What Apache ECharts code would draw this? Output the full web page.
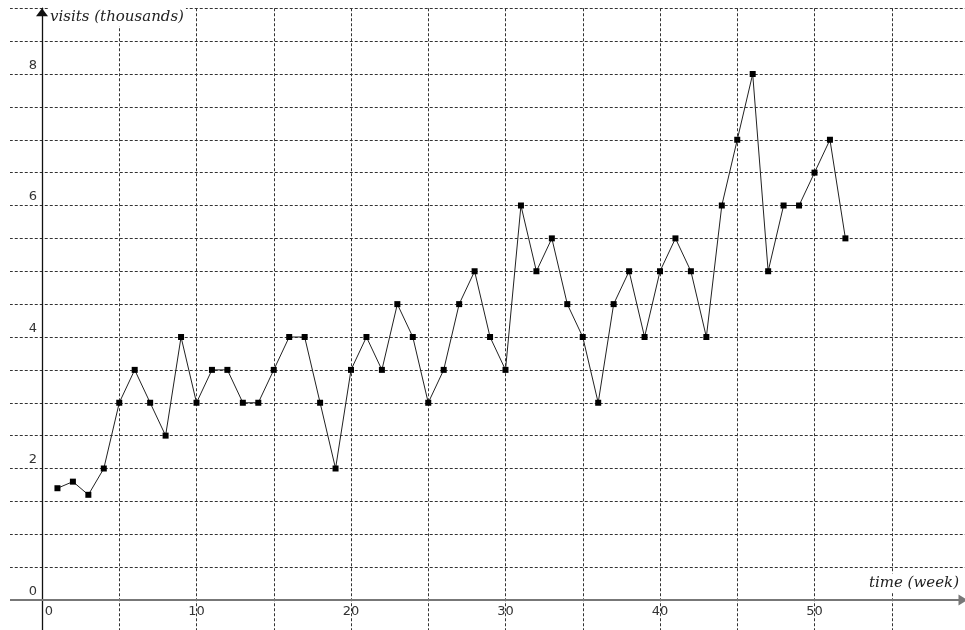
<!DOCTYPE html>
<html>
<head>
<meta charset="utf-8">
<script src="https://cdn.jsdelivr.net/npm/echarts@6/dist/echarts.min.js"></script>
<style>
html,body{margin:0;padding:0;background:#fff;}
#c{width:965px;height:630px;}
</style>
</head>
<body>
<div id="c"></div>
<script>
const weeks = [1,2,3,4,5,6,7,8,9,10,11,12,13,14,15,16,17,18,19,20,21,22,23,24,25,26,27,28,29,30,31,32,33,34,35,36,37,38,39,40,41,42,43,44,45,46,47,48,49,50,51,52];
const visits = [1.7,1.8,1.6,2.0,3.0,3.5,3.0,2.5,4.0,3.0,3.5,3.5,3.0,3.0,3.5,4.0,4.0,3.0,2.0,3.5,4.0,3.5,4.5,4.0,3.0,3.5,4.5,5.0,4.0,3.5,6.0,5.0,5.5,4.5,4.0,3.0,4.5,5.0,4.0,5.0,5.5,5.0,4.0,6.0,7.0,8.0,5.0,6.0,6.0,6.5,7.0,5.5];
const xLabels = [0,10,20,30,40,50];
const yLabels = [0,2,4,6,8];
const xTitle = 'time (week)';
const yTitle = 'visits (thousands)';

const points = weeks.map((w, i) => [w, visits[i]]);
const chart = echarts.init(document.getElementById('c'), null, {renderer: 'canvas'});
const gridLine = {show: true, lineStyle: {color: '#333', type: [3, 2], width: 1}};
const labelFont = {fontFamily: 'DejaVu Sans', fontSize: 13, color: '#333'};

chart.setOption({
  animation: false,
  backgroundColor: '#fff',
  grid: [
    {left: -35.25, right: -4, top: 8.25, bottom: -2.9, containLabel: false, outerBoundsMode: 'none'},
    {left: 42, right: -4, top: 8.25, bottom: 30, containLabel: false, outerBoundsMode: 'none'}
  ],
  xAxis: [{
    gridIndex: 0, type: 'value', min: -5, max: 60, interval: 5,
    axisLine: {show: true, onZero: true, symbol: ['none', 'triangle'], symbolSize: [11, 9], symbolOffset: [0, -6],
      lineStyle: {color: '#777', width: 2}},
    axisTick: {show: false},
    axisLabel: {show: false},
    splitLine: gridLine
  }, {
    gridIndex: 1, type: 'value', min: 0, max: 60, interval: 5,
    axisLine: {show: false},
    axisTick: {show: false},
    splitLine: {show: false},
    axisLabel: Object.assign({
      margin: 5,
      formatter: v => xLabels.includes(v) ? (v === 0 ? '{z|0}' : String(v)) : '',
      rich: {z: {padding: [0, 0, 0, 14], fontFamily: 'DejaVu Sans', fontSize: 13, color: '#333'}}
    }, labelFont)
  }],
  yAxis: [{
    gridIndex: 0, type: 'value', min: -0.5, max: 9, interval: 0.5,
    axisLine: {show: true, onZero: true, symbol: ['none', 'triangle'], symbolSize: [12, 8], symbolOffset: [0, -4],
      lineStyle: {color: '#111', width: 1.3}},
    axisTick: {show: false},
    axisLabel: {show: false},
    splitLine: gridLine
  }, {
    gridIndex: 1, type: 'value', min: 0, max: 9, interval: 0.5,
    axisLine: {show: false},
    axisTick: {show: false},
    splitLine: {show: false},
    axisLabel: Object.assign({
      margin: 5,
      verticalAlign: 'bottom',
      padding: [0, 0, 2, 0],
      formatter: v => yLabels.includes(v) ? String(v) : ''
    }, labelFont)
  }],
  graphic: [
    {type: 'rect', z: 100, shape: {x: 0, y: 0, width: 10, height: 630}, style: {fill: '#fff'}},
    {type: 'text', z: 100, x: 48, y: 17,
      style: {text: yTitle, font: 'italic 15px "DejaVu Serif"', fill: '#222', verticalAlign: 'middle', align: 'left', backgroundColor: '#fff', padding: [2, 2]}},
    {type: 'text', z: 100, x: 960, y: 583,
      style: {text: xTitle, font: 'italic 15px "DejaVu Serif"', fill: '#222', verticalAlign: 'middle', align: 'right', backgroundColor: '#fff', padding: [2, 1]}}
  ],
  series: [{
    type: 'line',
    xAxisIndex: 1, yAxisIndex: 1,
    data: points,
    symbol: 'rect',
    symbolSize: 6,
    showAllSymbol: true,
    itemStyle: {color: '#000'},
    lineStyle: {color: '#222', width: 1},
    z: 5
  }]
});
</script>
</body>
</html>
